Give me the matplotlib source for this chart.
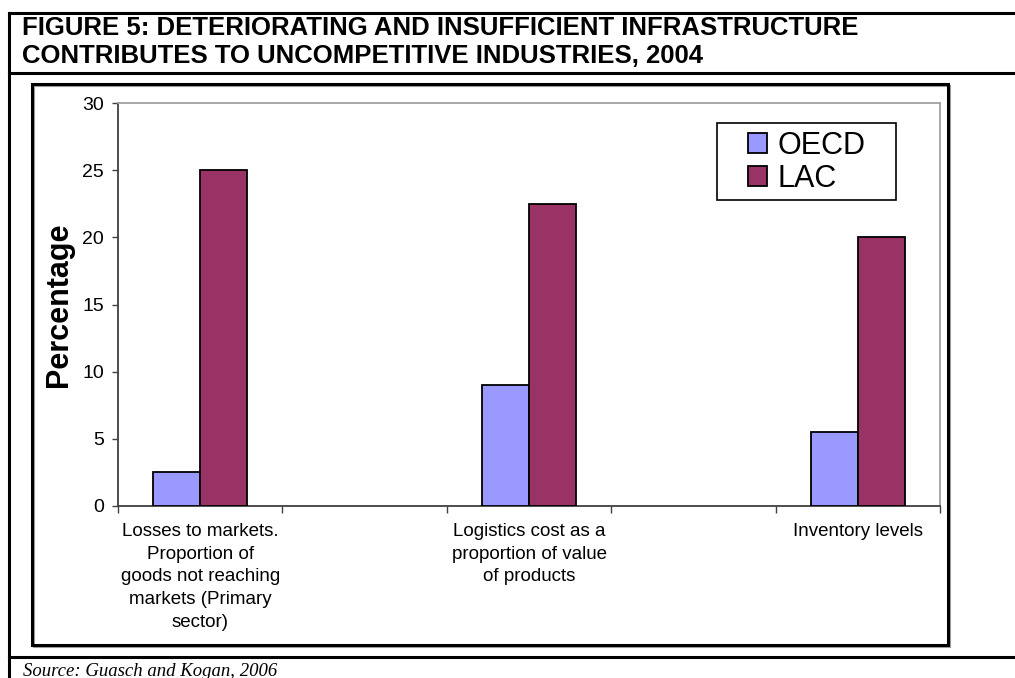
import numpy as np
import matplotlib
matplotlib.use("Agg")
import matplotlib.pyplot as plt
from matplotlib.lines import Line2D
from matplotlib.patches import Rectangle

plt.rcParams['font.family'] = ['Liberation Sans', 'DejaVu Sans']

# data
categories = ["Losses to markets.\nProportion of\ngoods not reaching\nmarkets (Primary\nsector)",
              "Logistics cost as a\nproportion of value\nof products",
              "Inventory levels"]
series_names = ["OECD", "LAC"]
oecd = [2.5, 9, 5.5]
lac = [25, 22.5, 20]
y_ticks = [0, 5, 10, 15, 20, 25, 30]

title = "FIGURE 5: DETERIORATING AND INSUFFICIENT INFRASTRUCTURE\nCONTRIBUTES TO UNCOMPETITIVE INDUSTRIES, 2004"
source = "Source: Guasch and Kogan, 2006"

W, H = 1015, 678
fig = plt.figure(figsize=(W / 100, H / 100), dpi=100)


def fx(x):
    return x / W


def fy(y):
    return 1 - y / H


# page frame lines
for y in (13, 73, 657):
    fig.add_artist(Line2D([fx(9), 1], [fy(y), fy(y)], color='black', lw=2.2))
fig.add_artist(Line2D([fx(9), fx(9)], [fy(13), 0], color='black', lw=2.2))

fig.text(fx(22), fy(28), title.split('\n')[0], fontsize=18.5, fontweight='bold', va='center', ha='left')
fig.text(fx(22), fy(56), title.split('\n')[1], fontsize=18.5, fontweight='bold', va='center', ha='left')
fig.text(fx(23), fy(676), source, family=['Liberation Serif'], style='italic', fontsize=13.5,
         va='baseline', ha='left')

# chart box with light shadow
fig.add_artist(Rectangle((fx(34), fy(647)), fx(948 - 32), (645 - 84) / H, transform=fig.transFigure,
                         fill=False, edgecolor='#a0a0a0', lw=1.5, zorder=1))
fig.add_artist(Rectangle((fx(32), fy(645)), fx(948 - 32), (645 - 84) / H, transform=fig.transFigure,
                         fill=False, edgecolor='black', lw=2.2, zorder=2))

ax = fig.add_axes([fx(118), fy(506), fx(940 - 118), (506 - 103) / H])

x = np.arange(len(categories)) * 2
w = 0.285
ax.bar(x - w / 2, oecd, w, color='#9999FF', edgecolor='black', lw=1.3, label=series_names[0], zorder=3)
ax.bar(x + w / 2, lac, w, color='#993366', edgecolor='black', lw=1.3, label=series_names[1], zorder=3)

ax.set_xlim(-0.5, x[-1] + 0.5)
ax.set_ylim(0, 30)
ax.set_yticks(y_ticks)
ax.tick_params(axis='y', labelsize=14, length=4, width=1, color='#404040', pad=6)

ax.set_xticks(np.arange(-0.5, x[-1] + 1, 1))
ax.set_xticklabels([])
ax.set_xticks(x, minor=True)
ax.set_xticklabels(categories, minor=True, fontsize=13.5, linespacing=1.45)
ax.tick_params(axis='x', which='major', length=5, width=1, color='#404040', direction='out')
ax.tick_params(axis='x', which='minor', length=0, pad=12)

for s in ('left', 'bottom'):
    ax.spines[s].set_color('#404040')
    ax.spines[s].set_linewidth(1.3)
for s in ('top', 'right'):
    ax.spines[s].set_color('#a0a0a0')
    ax.spines[s].set_linewidth(1.3)

ax.set_ylabel("Percentage", fontsize=22, fontweight='bold')
ax.yaxis.set_label_coords(-0.054, 0.5)

# legend
fig.add_artist(Rectangle((fx(717), fy(200)), fx(896 - 717), (200 - 123) / H, transform=fig.transFigure,
                         fill=False, edgecolor='black', lw=1.2))
fig.legend(loc='upper left', bbox_to_anchor=(fx(748), fy(131)), frameon=False, fontsize=22,
           handlelength=0.62, handleheight=0.62, handletextpad=0.35, labelspacing=0.1,
           borderpad=0, borderaxespad=0)

fig.savefig('out.png', dpi=100)
